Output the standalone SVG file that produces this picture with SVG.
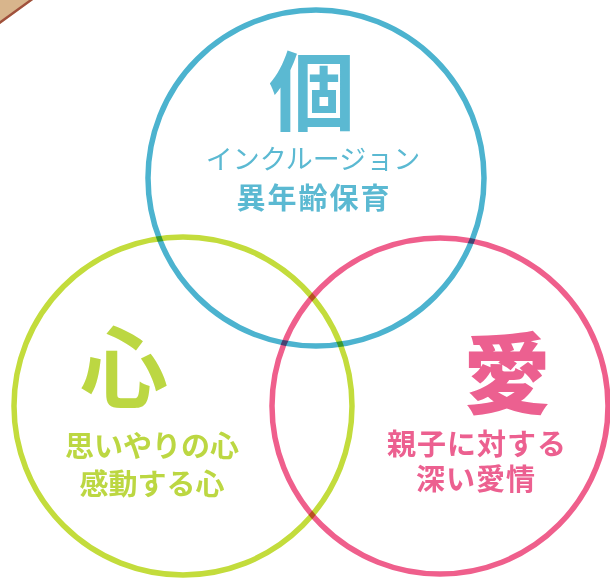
<svg xmlns="http://www.w3.org/2000/svg" width="610" height="578" viewBox="0 0 610 578">
<style>
.ring{fill:none;stroke-width:5.5;mix-blend-mode:multiply}
.t{font-family:"Noto Sans CJK JP","Noto Sans",sans-serif;text-anchor:middle}
.b{fill:#5bb9d2}
.g{fill:#bcd742}
.p{fill:#ec6090}
</style>
<rect width="610" height="578" fill="#ffffff"/>
<path d="M0,0 L33,0 L0,24 Z" fill="#d8b58c"/>
<path d="M0,21 L29,0 L33,0 L0,24 Z" fill="#a0503c"/>
<g id="node-ko">
<circle class="ring" cx="316" cy="178" r="168" stroke="#4cb3cf"/>
<text class="t b" x="312" y="124" font-size="86" font-weight="700">個</text>
<text class="t b" x="313" y="169" font-size="27" font-weight="400">インクルージョン</text>
<text class="t b" x="314" y="209" font-size="29" font-weight="700" letter-spacing="2">異年齢保育</text>
</g>
<g id="node-kokoro">
<circle class="ring" cx="183" cy="406" r="169" stroke="#c3dc3c"/>
<text class="t g" x="124" y="400" font-size="88" font-weight="700">心</text>
<text class="t g" x="152" y="457" font-size="29" font-weight="700">思いやりの心</text>
<text class="t g" x="152" y="495" font-size="29" font-weight="700">感動する心</text>
</g>
<g id="node-ai">
<circle class="ring" cx="440" cy="406" r="168" stroke="#ef5f8c"/>
<text class="t p" x="507" y="406" font-size="88" font-weight="900">愛</text>
<text class="t p" x="477" y="455" font-size="29" font-weight="700" letter-spacing="1">親子に対する</text>
<text class="t p" x="476" y="490" font-size="29" font-weight="700" letter-spacing="1">深い愛情</text>
</g>
</svg>
